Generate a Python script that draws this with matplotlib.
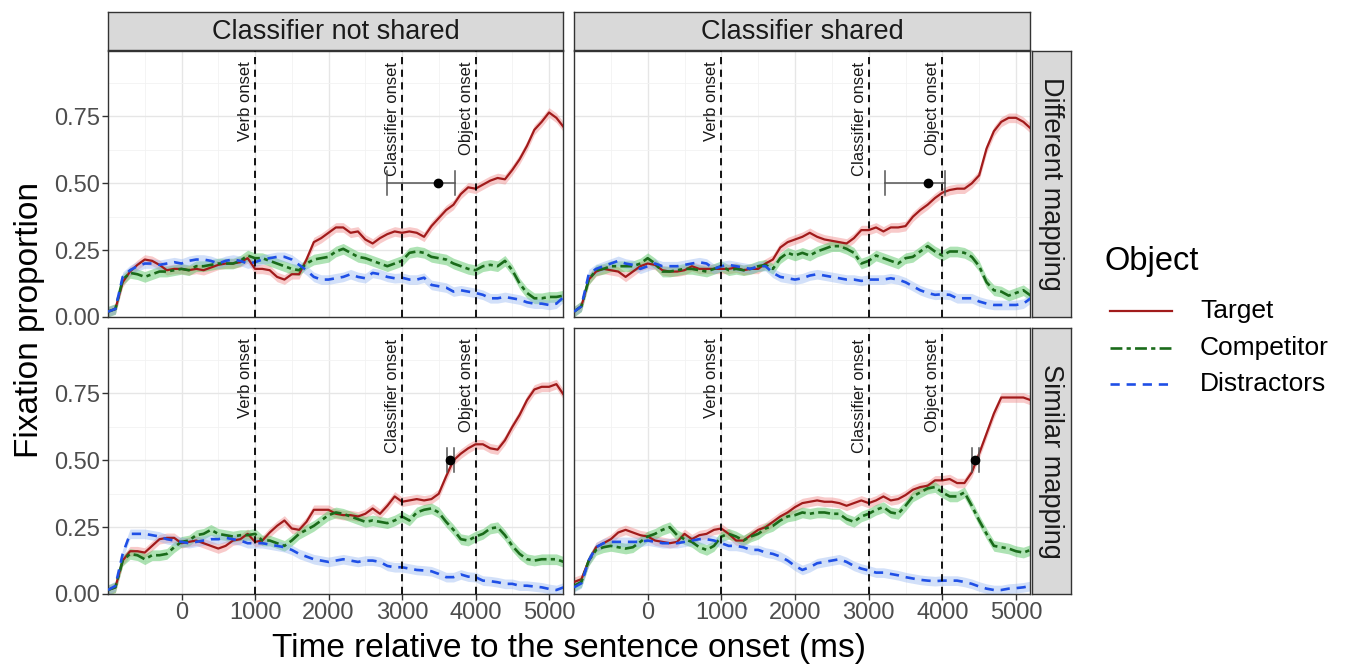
import numpy as np
import matplotlib
matplotlib.use("Agg")
import matplotlib.pyplot as plt
from matplotlib.lines import Line2D

plt.rcParams['font.family'] = ['Liberation Sans', 'DejaVu Sans']

# ---------------- data ----------------
time_ms = list(range(-1000, 5201, 100))

columns = ["Classifier not shared", "Classifier shared"]
rows = ["Different mapping", "Similar mapping"]
series = ["Target", "Competitor", "Distractors"]

# Classifier not shared / Different mapping
nd_target = [0.02, 0.03, 0.13, 0.17, 0.195, 0.215, 0.21, 0.195, 0.175, 0.18,
             0.18, 0.175, 0.18, 0.175, 0.185, 0.195, 0.20, 0.20, 0.205, 0.22,
             0.18, 0.18, 0.175, 0.15, 0.14, 0.16, 0.16, 0.215, 0.28, 0.295,
             0.315, 0.335, 0.335, 0.315, 0.32, 0.29, 0.275, 0.295, 0.31, 0.32,
             0.315, 0.32, 0.315, 0.30, 0.34, 0.37, 0.40, 0.42, 0.46, 0.485,
             0.48, 0.495, 0.51, 0.52, 0.515, 0.55, 0.59, 0.64, 0.70, 0.73,
             0.765, 0.745, 0.71]
nd_competitor = [0.02, 0.03, 0.14, 0.165, 0.16, 0.15, 0.16, 0.17, 0.17, 0.175,
                 0.18, 0.175, 0.19, 0.19, 0.195, 0.20, 0.20, 0.20, 0.21, 0.23,
                 0.22, 0.22, 0.21, 0.20, 0.19, 0.18, 0.175, 0.20, 0.215, 0.22,
                 0.225, 0.245, 0.255, 0.24, 0.225, 0.22, 0.21, 0.20, 0.19, 0.20,
                 0.21, 0.24, 0.245, 0.24, 0.225, 0.22, 0.215, 0.20, 0.19, 0.18,
                 0.175, 0.19, 0.195, 0.19, 0.21, 0.175, 0.125, 0.09, 0.07, 0.07,
                 0.075, 0.075, 0.08]
nd_distractors = [0.02, 0.03, 0.15, 0.175, 0.19, 0.20, 0.20, 0.195, 0.20, 0.205,
                  0.20, 0.21, 0.215, 0.215, 0.21, 0.20, 0.21, 0.215, 0.21, 0.20,
                  0.205, 0.215, 0.22, 0.225, 0.225, 0.215, 0.195, 0.175, 0.15, 0.14,
                  0.14, 0.145, 0.15, 0.16, 0.15, 0.145, 0.165, 0.16, 0.15, 0.145,
                  0.147, 0.14, 0.14, 0.147, 0.12, 0.115, 0.11, 0.095, 0.10, 0.095,
                  0.09, 0.083, 0.07, 0.07, 0.075, 0.07, 0.065, 0.055, 0.05, 0.05,
                  0.045, 0.05, 0.075]

# Classifier shared / Different mapping
sd_target = [0.02, 0.04, 0.14, 0.17, 0.18, 0.175, 0.17, 0.15, 0.17, 0.19,
             0.20, 0.195, 0.175, 0.17, 0.17, 0.175, 0.19, 0.18, 0.18, 0.18,
             0.18, 0.18, 0.185, 0.175, 0.18, 0.18, 0.20, 0.215, 0.26, 0.28,
             0.29, 0.30, 0.315, 0.30, 0.29, 0.285, 0.28, 0.275, 0.295, 0.325,
             0.325, 0.335, 0.32, 0.335, 0.335, 0.34, 0.375, 0.40, 0.42, 0.445,
             0.465, 0.475, 0.48, 0.48, 0.50, 0.53, 0.63, 0.695, 0.73, 0.745,
             0.745, 0.73, 0.705]
sd_competitor = [0.02, 0.04, 0.14, 0.175, 0.18, 0.19, 0.19, 0.19, 0.19, 0.20,
                 0.22, 0.20, 0.17, 0.17, 0.175, 0.18, 0.18, 0.175, 0.17, 0.18,
                 0.19, 0.175, 0.18, 0.175, 0.18, 0.19, 0.195, 0.18, 0.22, 0.24,
                 0.23, 0.24, 0.23, 0.245, 0.255, 0.265, 0.265, 0.255, 0.24, 0.20,
                 0.21, 0.23, 0.22, 0.21, 0.20, 0.22, 0.225, 0.245, 0.265, 0.245,
                 0.23, 0.245, 0.245, 0.24, 0.225, 0.19, 0.13, 0.10, 0.095, 0.08,
                 0.09, 0.10, 0.08]
sd_distractors = [0.02, 0.04, 0.16, 0.18, 0.19, 0.20, 0.21, 0.20, 0.195, 0.18,
                  0.19, 0.20, 0.19, 0.19, 0.19, 0.195, 0.20, 0.205, 0.20, 0.18,
                  0.19, 0.195, 0.19, 0.185, 0.18, 0.19, 0.19, 0.165, 0.15, 0.145,
                  0.14, 0.145, 0.155, 0.16, 0.155, 0.15, 0.145, 0.14, 0.14, 0.135,
                  0.14, 0.14, 0.14, 0.145, 0.14, 0.13, 0.115, 0.10, 0.09, 0.083,
                  0.085, 0.083, 0.07, 0.07, 0.07, 0.058, 0.05, 0.045, 0.045, 0.045,
                  0.045, 0.05, 0.07]

# Classifier not shared / Similar mapping
ns_target = [0.015, 0.025, 0.125, 0.16, 0.16, 0.155, 0.18, 0.205, 0.21, 0.21,
             0.19, 0.195, 0.20, 0.19, 0.18, 0.17, 0.18, 0.20, 0.205, 0.225,
             0.195, 0.20, 0.23, 0.255, 0.275, 0.245, 0.24, 0.27, 0.315, 0.315,
             0.315, 0.30, 0.295, 0.295, 0.29, 0.30, 0.32, 0.30, 0.33, 0.365,
             0.345, 0.35, 0.355, 0.35, 0.355, 0.375, 0.44, 0.50, 0.525, 0.545,
             0.56, 0.56, 0.545, 0.54, 0.575, 0.625, 0.67, 0.725, 0.765, 0.775,
             0.775, 0.785, 0.745]
ns_competitor = [0.015, 0.025, 0.125, 0.15, 0.145, 0.13, 0.145, 0.145, 0.15, 0.175,
                 0.195, 0.20, 0.22, 0.225, 0.24, 0.225, 0.22, 0.215, 0.22, 0.22,
                 0.225, 0.20, 0.20, 0.19, 0.18, 0.20, 0.225, 0.24, 0.255, 0.275,
                 0.295, 0.305, 0.30, 0.29, 0.28, 0.27, 0.275, 0.27, 0.265, 0.275,
                 0.29, 0.275, 0.305, 0.315, 0.32, 0.305, 0.27, 0.24, 0.205, 0.20,
                 0.215, 0.225, 0.245, 0.25, 0.22, 0.18, 0.15, 0.13, 0.125, 0.13,
                 0.13, 0.13, 0.12]
ns_distractors = [0.015, 0.03, 0.15, 0.225, 0.225, 0.225, 0.22, 0.215, 0.205, 0.20,
                  0.195, 0.19, 0.195, 0.20, 0.205, 0.205, 0.21, 0.205, 0.20, 0.19,
                  0.19, 0.19, 0.185, 0.18, 0.175, 0.165, 0.15, 0.14, 0.13, 0.125,
                  0.12, 0.125, 0.13, 0.125, 0.12, 0.125, 0.125, 0.12, 0.105, 0.10,
                  0.10, 0.095, 0.09, 0.088, 0.085, 0.075, 0.063, 0.063, 0.073, 0.065,
                  0.063, 0.05, 0.048, 0.044, 0.038, 0.038, 0.031, 0.031, 0.028, 0.025,
                  0.019, 0.015, 0.025]

# Classifier shared / Similar mapping
ss_target = [0.045, 0.055, 0.125, 0.175, 0.19, 0.205, 0.23, 0.24, 0.23, 0.22,
             0.215, 0.20, 0.195, 0.19, 0.195, 0.225, 0.205, 0.22, 0.225, 0.24,
             0.245, 0.225, 0.20, 0.20, 0.22, 0.24, 0.25, 0.27, 0.29, 0.305,
             0.325, 0.34, 0.345, 0.35, 0.345, 0.345, 0.34, 0.33, 0.34, 0.35,
             0.34, 0.35, 0.365, 0.35, 0.355, 0.37, 0.39, 0.40, 0.405, 0.425,
             0.425, 0.43, 0.415, 0.415, 0.455, 0.525, 0.60, 0.675, 0.735, 0.735,
             0.735, 0.735, 0.725]
ss_competitor = [0.03, 0.045, 0.125, 0.165, 0.175, 0.18, 0.175, 0.17, 0.175, 0.195,
                 0.215, 0.225, 0.24, 0.25, 0.22, 0.205, 0.195, 0.175, 0.165, 0.18,
                 0.215, 0.225, 0.215, 0.20, 0.215, 0.225, 0.245, 0.255, 0.275, 0.29,
                 0.295, 0.305, 0.30, 0.305, 0.305, 0.30, 0.30, 0.28, 0.27, 0.29,
                 0.30, 0.315, 0.325, 0.305, 0.30, 0.33, 0.365, 0.38, 0.395, 0.40,
                 0.38, 0.365, 0.365, 0.38, 0.33, 0.275, 0.225, 0.18, 0.175, 0.17,
                 0.16, 0.155, 0.165]
ss_distractors = [0.025, 0.04, 0.125, 0.175, 0.19, 0.195, 0.195, 0.195, 0.195, 0.195,
                  0.20, 0.195, 0.19, 0.19, 0.19, 0.195, 0.20, 0.205, 0.205, 0.20,
                  0.19, 0.18, 0.18, 0.175, 0.165, 0.165, 0.155, 0.15, 0.14, 0.125,
                  0.105, 0.09, 0.10, 0.115, 0.12, 0.125, 0.13, 0.12, 0.105, 0.095,
                  0.088, 0.08, 0.08, 0.075, 0.07, 0.063, 0.058, 0.053, 0.05, 0.048,
                  0.05, 0.05, 0.05, 0.045, 0.038, 0.028, 0.02, 0.015, 0.015, 0.02,
                  0.022, 0.025, 0.03]

ribbon_halfwidth = {"Target": 0.018, "Competitor": 0.02, "Distractors": 0.018}

panel_data = {
    ("Classifier not shared", "Different mapping"): [nd_target, nd_competitor, nd_distractors],
    ("Classifier shared", "Different mapping"): [sd_target, sd_competitor, sd_distractors],
    ("Classifier not shared", "Similar mapping"): [ns_target, ns_competitor, ns_distractors],
    ("Classifier shared", "Similar mapping"): [ss_target, ss_competitor, ss_distractors],
}

onset_times = [1000, 3000, 4000]
onset_labels = ["Verb onset", "Classifier onset", "Object onset"]

# divergence point estimates (horizontal error bars at y = 0.5)
errbar_y = 0.5
errbar_center = {("Classifier not shared", "Different mapping"): 3490,
                 ("Classifier shared", "Different mapping"): 3800,
                 ("Classifier not shared", "Similar mapping"): 3650,
                 ("Classifier shared", "Similar mapping"): 4440}
errbar_low = {("Classifier not shared", "Different mapping"): 2790,
              ("Classifier shared", "Different mapping"): 3215,
              ("Classifier not shared", "Similar mapping"): 3612,
              ("Classifier shared", "Similar mapping"): 4404}
errbar_high = {("Classifier not shared", "Different mapping"): 3720,
               ("Classifier shared", "Different mapping"): 4040,
               ("Classifier not shared", "Similar mapping"): 3710,
               ("Classifier shared", "Similar mapping"): 4494}

x_ticks = [0, 1000, 2000, 3000, 4000, 5000]
y_ticks = [0.00, 0.25, 0.50, 0.75]
y_ticklabels = ["0.00", "0.25", "0.50", "0.75"]

# ---------------- style ----------------
line_colors = {"Target": "#A11B1B", "Competitor": "#1A6B1A", "Distractors": "#1F4FE6"}
fill_colors = {"Target": "#F08A8A", "Competitor": "#4CC25A", "Distractors": "#8FB2F2"}
fill_alpha = {"Target": 0.45, "Competitor": 0.45, "Distractors": 0.40}
line_styles = {"Target": "-", "Competitor": (0, (4.5, 1.6, 1.6, 1.6)), "Distractors": (0, (3.5, 2.6))}
line_widths = {"Target": 1.6, "Competitor": 1.9, "Distractors": 1.9}

W, H = 1346, 667
fig = plt.figure(figsize=(W / 100, H / 100), dpi=100)


def rect(x0, y0, x1, y1):
    return [x0 / W, 1 - y1 / H, (x1 - x0) / W, (y1 - y0) / H]


col_x = [(108, 563), (574, 1030)]
row_y = [(51, 317), (328, 594)]
tick_col = "#4D4D4D"
border_col = "#333333"

t = np.array(time_ms)
for ri, rname in enumerate(rows):
    for ci, cname in enumerate(columns):
        ax = fig.add_axes(rect(col_x[ci][0], row_y[ri][0], col_x[ci][1], row_y[ri][1]))
        ax.set_xlim(-1000, 5190)
        ax.set_ylim(0, 0.995)
        ax.set_xticks(x_ticks)
        ax.set_xticks([-500, 500, 1500, 2500, 3500, 4500], minor=True)
        ax.set_yticks(y_ticks)
        ax.set_yticks([0.125, 0.375, 0.625, 0.875], minor=True)
        ax.grid(which="major", color="#E6E6E6", lw=1.0, zorder=0)
        ax.grid(which="minor", color="#F2F2F2", lw=0.6, zorder=0)
        ax.set_axisbelow(True)
        for sp in ax.spines.values():
            sp.set_color(border_col)
            sp.set_linewidth(1.0)
        ax.tick_params(which="minor", length=0)
        ax.tick_params(which="major", length=4, width=1.0, color=border_col,
                       labelsize=17, labelcolor=tick_col, pad=2)
        if ci == 0:
            ax.set_yticklabels(y_ticklabels)
        else:
            ax.tick_params(axis="y", which="major", length=0, labelleft=False)
        if ri == 1:
            ax.set_xticklabels([str(v) for v in x_ticks])
        else:
            ax.tick_params(axis="x", which="major", length=0, labelbottom=False)

        vals = panel_data[(cname, rname)]
        for s, v in zip(series, vals):
            v = np.array(v)
            hw = ribbon_halfwidth[s]
            ax.fill_between(t, v - hw, v + hw, color=fill_colors[s], alpha=fill_alpha[s],
                            lw=0, zorder=2)
        for s, v in zip(series, vals):
            ax.plot(t, v, color=line_colors[s], ls=line_styles[s], lw=line_widths[s], zorder=3)

        for ot, ol in zip(onset_times, onset_labels):
            ax.axvline(ot, color="black", ls=(0, (4, 3)), lw=1.3, zorder=4)
            ax.text(ot - 25, 0.955, ol, rotation=90, ha="right", va="top",
                    fontsize=12, color="#1a1a1a", zorder=5)

        key = (cname, rname)
        ax.plot([errbar_low[key], errbar_high[key]], [errbar_y, errbar_y],
                color="#555555", lw=1.1, zorder=5)
        for xe in (errbar_low[key], errbar_high[key]):
            ax.plot([xe, xe], [errbar_y - 0.045, errbar_y + 0.045], color="#555555", lw=1.1, zorder=5)
        ax.plot([errbar_center[key]], [errbar_y], "o", color="black", ms=6, zorder=6)

# strips
for ci, cname in enumerate(columns):
    sax = fig.add_axes(rect(col_x[ci][0], 12, col_x[ci][1], 50))
    sax.set_facecolor("#D9D9D9")
    sax.set_xticks([]); sax.set_yticks([])
    for sp in sax.spines.values():
        sp.set_color(border_col); sp.set_linewidth(1.0)
    sax.text(0.5, 0.47, cname, ha="center", va="center", fontsize=19.5, color="#1A1A1A",
             transform=sax.transAxes)
for ri, rname in enumerate(rows):
    sax = fig.add_axes(rect(1032, row_y[ri][0], 1071, row_y[ri][1]))
    sax.set_facecolor("#D9D9D9")
    sax.set_xticks([]); sax.set_yticks([])
    for sp in sax.spines.values():
        sp.set_color(border_col); sp.set_linewidth(1.0)
    sax.text(0.5, 0.5, rname, ha="center", va="center", rotation=-90, fontsize=19.5,
             color="#1A1A1A", transform=sax.transAxes)

# axis titles
fig.text(30 / W, 1 - 320 / H, "Fixation proportion", rotation=90, ha="center", va="center",
         fontsize=24, color="black")
fig.text(569 / W, 1 - 648 / H, "Time relative to the sentence onset (ms)", ha="center",
         va="center", fontsize=24, color="black")

# legend (drawn manually)
fig.text(1104 / W, 1 - 262 / H, "Object", ha="left", va="center", fontsize=23.5, color="black")
leg_y = [311, 348, 384]
for s, yy in zip(series, leg_y):
    fig.add_artist(Line2D([1110 / W, 1172 / W], [1 - yy / H, 1 - yy / H], transform=fig.transFigure,
                          color=line_colors[s], ls=line_styles[s], lw=line_widths[s]))
    fig.text(1200 / W, 1 - yy / H, s, ha="left", va="center", fontsize=19, color="black")

fig.savefig("out.png", dpi=100)
